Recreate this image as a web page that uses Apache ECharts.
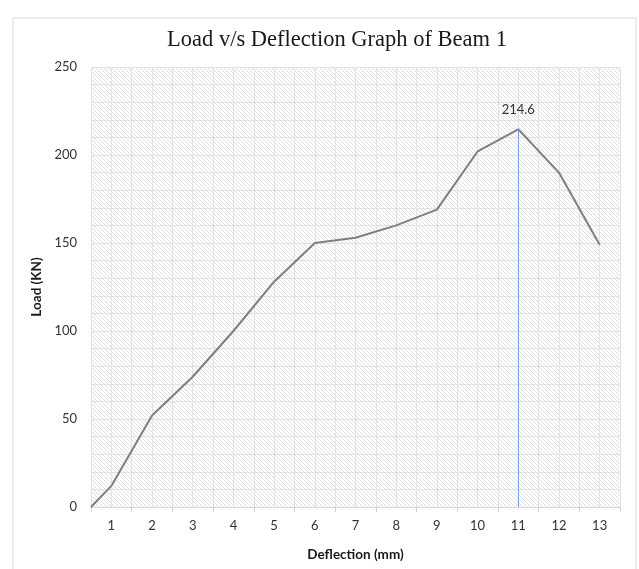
<!DOCTYPE html>
<html>
<head>
<meta charset="utf-8">
<script src="https://cdn.jsdelivr.net/npm/echarts@6/dist/echarts.min.js"></script>
<style>
  html, body { margin: 0; padding: 0; background: #fff; }
  #chart { width: 639px; height: 569px; }
</style>
</head>
<body>
<div id="chart"></div>
<script>
// deflection (mm) and load (KN)
var deflection = [0.5, 1, 2, 3, 4, 5, 6, 7, 8, 9, 10, 11, 12, 13];
var load = [0, 12, 52, 74, 100, 128, 150, 153, 160, 169, 202, 214.6, 190, 149];
var xLabels = ['1', '2', '3', '4', '5', '6', '7', '8', '9', '10', '11', '12', '13'];

var peak = 0;
for (var i = 1; i < load.length; i++) {
  if (load[i] > load[peak]) peak = i;
}

// diagonal hatch like the excel plot fill
var hatch = document.createElement('canvas');
hatch.width = 4;
hatch.height = 4;
var ctx = hatch.getContext('2d');
ctx.fillStyle = '#ffffff';
ctx.fillRect(0, 0, 4, 4);
ctx.strokeStyle = '#e0e0e0';
ctx.lineWidth = 1;
ctx.beginPath();
ctx.moveTo(-1, -1); ctx.lineTo(5, 5);
ctx.moveTo(-1, 3); ctx.lineTo(1, 5);
ctx.moveTo(3, -1); ctx.lineTo(5, 1);
ctx.stroke();

var points = [];
for (var j = 0; j < load.length; j++) {
  points.push([deflection[j], load[j]]);
}

var chart = echarts.init(document.getElementById('chart'));
var font = 'Lato, "Open Sans", sans-serif';
var gridCol = '#e2e2e2';

var option = {
  animation: false,
  backgroundColor: '#fff',
  graphic: [{
    type: 'rect',
    shape: { x: 13, y: 18, width: 623, height: 570 },
    style: { fill: 'none', stroke: '#d9d9d9', lineWidth: 1 },
    silent: true
  }],
  title: {
    text: 'Load v/s Deflection Graph of Beam 1',
    left: 332,
    top: 24,
    textAlign: 'center',
    textStyle: {
      fontFamily: '"Liberation Serif", "Times New Roman", serif',
      fontSize: 22.5,
      fontWeight: 'normal',
      color: '#1a1a1a'
    }
  },
  grid: {
    left: 91, right: 19, top: 67, bottom: 62,
    show: true,
    borderWidth: 0,
    backgroundColor: { image: hatch, repeat: 'repeat' }
  },
  xAxis: [{
    type: 'category',
    data: xLabels,
    boundaryGap: true,
    name: 'Deflection (mm)',
    nameLocation: 'middle',
    nameGap: 41,
    nameTextStyle: { fontFamily: font, fontSize: 13.5, fontWeight: 'bold', color: '#1a1a1a' },
    axisLine: { lineStyle: { color: '#d9d9d9', width: 1 } },
    axisTick: { show: true, length: 5, lineStyle: { color: '#d0d0d0' } },
    axisLabel: { fontFamily: font, fontSize: 13, color: '#333', margin: 12 },
    splitLine: { show: false }
  }, {
    type: 'value',
    min: 0.5,
    max: 13.5,
    interval: 0.5,
    position: 'bottom',
    axisLine: { show: false },
    axisTick: { show: false },
    axisLabel: { show: false },
    splitLine: { show: true, lineStyle: { color: gridCol, width: 1 } }
  }],
  yAxis: {
    type: 'value',
    min: 0,
    max: 250,
    interval: 50,
    name: 'Load (KN)',
    nameLocation: 'middle',
    nameGap: 46,
    nameTextStyle: { fontFamily: font, fontSize: 13.5, fontWeight: 'bold', color: '#1a1a1a' },
    axisLine: { show: false },
    axisTick: { show: false },
    axisLabel: { fontFamily: font, fontSize: 13, color: '#333', margin: 14 },
    splitLine: { show: true, lineStyle: { color: gridCol, width: 1 } },
    minorTick: { show: false, splitNumber: 5 },
    minorSplitLine: { show: true, lineStyle: { color: gridCol, width: 1 } }
  },
  series: [{
    type: 'line',
    xAxisIndex: 1,
    data: points,
    showSymbol: false,
    symbol: 'none',
    lineStyle: { color: '#7f7f7f', width: 2 },
    markLine: {
      silent: true,
      symbol: 'none',
      label: { show: false },
      lineStyle: { color: '#7ea0e0', width: 1, type: 'solid' },
      data: [[
        { coord: [deflection[peak], load[peak]] },
        { coord: [deflection[peak], 0] }
      ]]
    },
    markPoint: {
      silent: true,
      symbol: 'circle',
      symbolSize: 0,
      label: {
        show: true,
        position: 'top',
        distance: 13,
        fontFamily: font,
        fontSize: 13,
        color: '#333',
        formatter: function (p) { return String(p.value); }
      },
      data: [{ coord: [deflection[peak], load[peak]], value: load[peak] }]
    }
  }]
};

chart.setOption(option);
</script>
</body>
</html>
